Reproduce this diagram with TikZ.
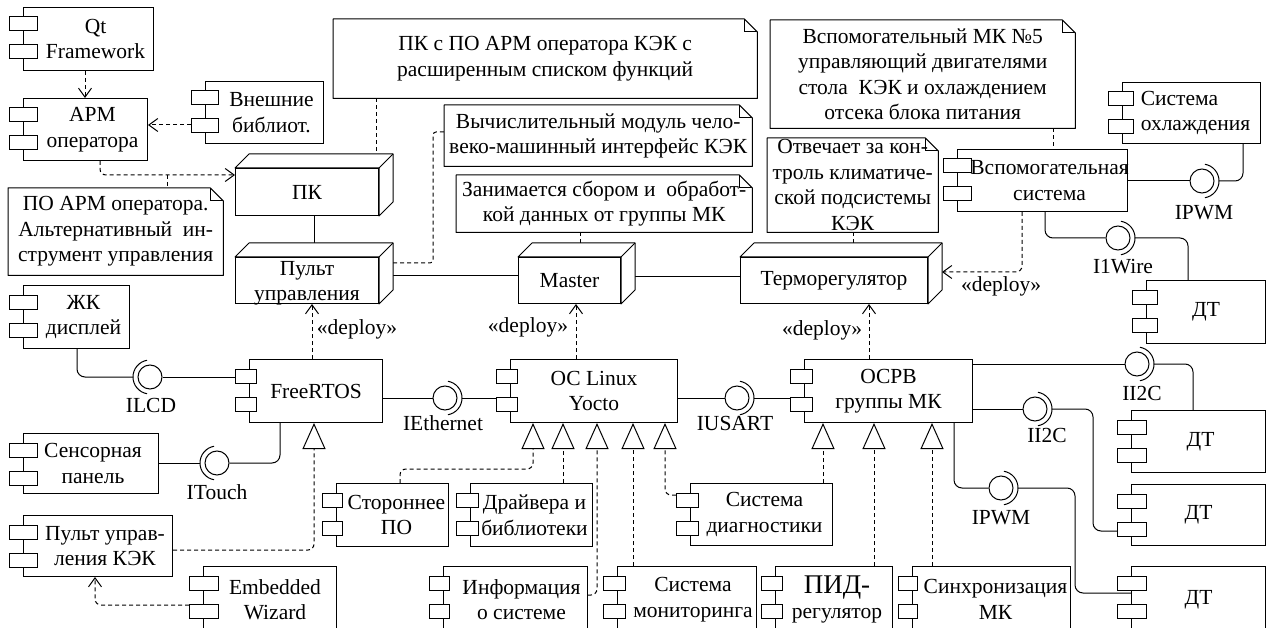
\documentclass[tikz,border=0pt]{standalone}
\usepackage{fontspec}
\setmainfont{Liberation Serif}
\usetikzlibrary{arrows.meta,calc}
\pgfdeclarelayer{bg}
\pgfsetlayers{bg,main}
\tikzset{
  base/.style={line width=1pt},
  box/.style={draw, fill=white, line width=1pt, inner sep=0pt, anchor=north west},
  tabbox/.style={draw, fill=white, line width=1pt},
  txt/.style={font=\fontsize{21.5}{25.5}\selectfont, align=center, inner sep=0pt},
  dsh/.style={line width=1pt, dash pattern=on 4pt off 3pt},
  dep/.style={dsh, -{Straight Barb[length=9pt,width=13pt]}},
  real/.style={dsh, -{Triangle[open,length=26pt,width=23pt]}},
  wire/.style={line width=1pt, rounded corners=8pt},
  ball/.style={circle, draw, fill=white, line width=1pt, minimum size=24pt, inner sep=0pt},
}
% component: name x1 y1 x2 y2 tabR textshift textopts text
\newcommand\Comp[9]{%
  \pgfmathsetmacro\cmpw{#4-#2}\pgfmathsetmacro\cmph{#5-#3}%
  \node[box, minimum width=\cmpw pt, minimum height=\cmph pt] (#1) at (#2,#3) {};
  \draw[tabbox] ([shift={(-14,10)}]#1.north west) rectangle ([shift={(#6,24)}]#1.north west);
  \draw[tabbox] ([shift={(-14,38)}]#1.north west) rectangle ([shift={(#6,52)}]#1.north west);
  \node[txt,#8] (#1-t) at ([xshift=#7pt]#1.center) {#9};
}
% device node: name x1 y1 x2 y2 textopts text
\newcommand\Dev[7]{%
  \pgfmathsetmacro\cmpw{#4-#2}\pgfmathsetmacro\cmph{#5-#3}%
  \node[box, minimum width=\cmpw pt, minimum height=\cmph pt] (#1) at (#2,#3) {};
  \draw[base, fill=white, line join=round] (#1.north west) -- ++(14,-14) -- ([shift={(14,-14)}]#1.north east) -- ([shift={(14,-14)}]#1.south east) -- (#1.south east) -- (#1.north east) -- cycle;
  \draw[base] (#1.north east) -- ++(14,-14);
  \coordinate (#1-tp) at ([yshift=14pt]#1.north);
  \coordinate (#1-rt) at ([xshift=14pt]#1.east);
  \node[txt,#6] (#1-t) at (#1.center) {#7};
}
% note: name x1 y1 x2 y2 text
\newcommand\Note[6]{%
  \pgfmathsetmacro\cmpw{#4-#2}\pgfmathsetmacro\cmph{#5-#3}%
  \node[inner sep=0pt, anchor=north west, minimum width=\cmpw pt, minimum height=\cmph pt] (#1) at (#2,#3) {};
  \draw[base, fill=white, line join=round] (#1.north west) -- ([xshift=-13pt]#1.north east) -- ([yshift=-13pt]#1.north east) -- (#1.south east) -- (#1.south west) -- cycle;
  \draw[base] ([xshift=-13pt]#1.north east) |- ([yshift=-13pt]#1.north east);
  \node[txt] (#1-t) at (#1.center) {#6};
}
% interface: name x y side label lx ly
\newcommand\Iface[7]{%
  \node[ball] (#1) at (#2,#3) {};
  \ifnum#4>0
    \draw[base] ([xshift=17pt]#1.center) arc[start angle=0,end angle=80,radius=17pt]
                ([xshift=17pt]#1.center) arc[start angle=0,end angle=-80,radius=17pt];
    \coordinate (#1-s) at ([xshift=17pt]#1.center);
  \else
    \draw[base] ([xshift=-17pt]#1.center) arc[start angle=180,end angle=100,radius=17pt]
                ([xshift=-17pt]#1.center) arc[start angle=180,end angle=260,radius=17pt];
    \coordinate (#1-s) at ([xshift=-17pt]#1.center);
  \fi
  \node[txt] (#1-l) at (#6,#7) {#5};
}
\begin{document}
\begin{tikzpicture}[x=1pt,y=-1pt]
\useasboundingbox (0,0) rectangle (1271,628);
\begin{pgfonlayer}{bg}
\fill[white] (0,0) rectangle (1271,628);
\end{pgfonlayer}
\clip (0,0) rectangle (1271,628);

% ---------- components ----------
\Comp{qt}{23}{7}{153}{70}{14}{7}{}{Qt\\Framework}
\Comp{arm}{23}{98}{147}{160}{14}{7}{}{АРМ\\оператора}
\Comp{ext}{205}{81}{323}{143}{13}{7}{}{Внешние\\библиот.}
\Comp{cool}{1122}{82}{1260}{143}{11}{4}{align=left}{Система\\охлаждения}
\Comp{aux}{957}{149}{1127}{211}{14}{7}{}{Вспомогательная\\система}
\Comp{lcd}{23}{285}{129}{348}{14}{7}{}{ЖК\\дисплей}
\Comp{touch}{23}{433}{158}{493}{14}{2}{}{Сенсорная\\панель}
\Comp{pultkek}{23}{515}{172}{576}{14}{7}{}{Пульт управ-\\ления КЭК}
\Comp{ew}{203}{566}{336}{632}{15}{5}{}{Embedded\\Wizard}
\Comp{freertos}{249}{359}{382}{422}{7}{0}{}{FreeRTOS}
\Comp{linux}{510}{359}{677}{422}{7}{0}{}{ОС Linux\\Yocto}
\Comp{osrv}{804}{359}{972}{422}{8}{0}{}{ОСРВ\\группы МК}
\Comp{third}{336}{483}{448}{546}{6}{4}{}{Стороннее\\ПО}
\Comp{drv}{470}{483}{592}{546}{8}{3}{}{Драйвера и\\библиотеки}
\Comp{diag}{690}{483}{832}{545}{8}{3}{}{Система\\диагностики}
\Comp{info}{443}{566}{587}{632}{6}{6}{}{Информация\\о системе}
\Comp{mon}{617}{566}{756}{632}{8}{6}{}{Система\\мониторинга}
\Comp{pid}{775}{566}{892}{632}{7}{3}{}{{\fontsize{27}{27}\selectfont ПИД-}\\регулятор}
\Comp{sync}{912}{566}{1070}{632}{5}{4}{}{Синхронизация\\МК}
\Comp{dt1}{1146}{280}{1265}{343}{11}{0}{}{ДТ}
\Comp{dt2}{1131}{410}{1265}{472}{15}{2}{}{ДТ}
\Comp{dt3}{1131}{484}{1265}{545}{15}{0}{}{ДТ}
\Comp{dt4}{1131}{566}{1265}{632}{15}{0}{}{ДТ}

% ---------- devices ----------
\Dev{pk}{235}{168}{378}{215}{}{ПК}
\Dev{pult}{235}{257}{378}{303}{yshift=-3pt}{Пульт\\управления}
\Dev{master}{518}{257}{620}{303}{}{Master}
\Dev{thermo}{740}{257}{927}{303}{}{Терморегулятор}

% ---------- notes ----------
\Note{n1}{8}{188}{223}{275}{ПО АРМ оператора.\\Альтернативный\ \ ин-\\струмент управления}
\Note{n2}{333}{19}{757}{98}{ПК с ПО АРМ оператора КЭК с\\расширенным списком функций}
\Note{n3}{444}{105}{752}{166}{Вычислительный модуль чело-\\веко-машинный интерфейс КЭК}
\Note{n4}{456}{175}{752}{232}{Занимается сбором и\ \ обработ-\\кой данных от группы МК}
\Note{n5}{767}{138}{938}{232}{Отвечает за кон-\\троль климатиче-\\ской подсистемы\\КЭК}
\Note{n6}{770}{20}{1075}{128}{Вспомогательный МК №5\\управляющий двигателями\\стола\ \ КЭК и охлаждением\\отсека блока питания}

% ---------- interfaces ----------
\Iface{ilcd}{150}{377}{-1}{ILCD}{151}{405}
\Iface{itouch}{217}{463}{-1}{ITouch}{217}{492}
\Iface{ieth}{445}{398}{1}{IEthernet}{443}{423}
\Iface{iusart}{737}{398}{1}{IUSART}{735}{423}
\Iface{ipwma}{1202}{181}{1}{IPWM}{1204}{213}
\Iface{iwire}{1118}{238}{1}{I1Wire}{1123}{267}
\Iface{iica}{1137}{364}{1}{II2C}{1142}{393}
\Iface{iicb}{1035}{409}{1}{II2C}{1047}{435}
\Iface{ipwmb}{1001}{488}{1}{IPWM}{1001}{518}

% ---------- deploy labels ----------
\node[txt] (dl1) at (357,329) {«deploy»};
\node[txt] (dl2) at (528,327) {«deploy»};
\node[txt] (dl3) at (822,330) {«deploy»};
\node[txt] (dl4) at (1001,286) {«deploy»};

% ---------- connectors ----------
\begin{pgfonlayer}{bg}
\draw[dep] (qt.south -| 85,0) -- (arm.north -| 85,0);
\draw[dep] (ext.west |- 0,125) -- (arm.east |- 0,125);
\draw[dep, rounded corners=6pt] (arm.south -| 100,0) |- (pk.west |- 0,175);
\coordinate (j1) at (167,175);
\draw[dsh] (j1) -- (n1.north -| j1);
\draw[dsh] (n2.south -| 376,0) -- (pk-tp -| 376,0);
\draw[base] (pk.south -| 314,0) -- (pult-tp -| 314,0);
\draw[dsh, rounded corners=3pt] (pult-rt |- 0,263) -| (433,132) -- (n3.west |- 0,132);
\draw[base] (pult-rt |- 0,276) -- (master.west |- 0,276);
\draw[base] (master-rt |- 0,277) -- (thermo.west |- 0,277);
\draw[dsh] (n4.south -| 580,0) -- (master-tp -| 580,0);
\draw[dsh] (n5.south -| 853,0) -- (thermo-tp -| 853,0);
\draw[dsh] (n6.south -| 1053,0) -- (aux.north -| 1053,0);
\draw[dep, rounded corners=6pt] (aux.south -| 1022,0) |- (thermo-rt |- 0,272);
\draw[base] (aux.east |- ipwma) -- (ipwma.west);
\draw[wire] (ipwma-s) -| (cool.south -| 1243,0);
\draw[wire] (aux.south -| 1045,0) |- (iwire.west);
\draw[wire] (iwire-s) -| (dt1.north -| 1188,0);

\draw[dep] (freertos.north -| 312,0) -- (pult.south -| 312,0);
\draw[wire] (lcd.south -| 77,0) |- (ilcd-s);
\draw[base] (ilcd.east) -- (freertos.west |- ilcd);
\draw[base] (touch.east |- itouch) -- (itouch-s);
\draw[wire] (itouch.east) -| (freertos.south -| 280,0);
\draw[real, rounded corners=6pt] (pultkek.east |- 0,550) -| (freertos.south -| 314,0);
\draw[dep, rounded corners=6pt] (ew.west |- 0,605) -| (pultkek.south -| 95,0);

\draw[base] (freertos.east |- ieth) -- (ieth.west);
\draw[base] (ieth-s) -- (linux.west |- ieth);
\draw[dep] (linux.north -| 576,0) -- (master.south -| 576,0);
\draw[base] (linux.east |- iusart) -- (iusart.west);
\draw[base] (iusart-s) -- (osrv.west |- iusart);
\draw[dep] (osrv.north -| 869,0) -- (thermo.south -| 869,0);

\draw[real, rounded corners=6pt] (third.north -| 400,0) |- (533,469) -- (linux.south -| 533,0);
\draw[real] (drv.north -| 563,0) -- (linux.south -| 563,0);
\draw[real, rounded corners=6pt] (info.east |- 0,595) -| (linux.south -| 597,0);
\draw[real] (mon.north -| 633,0) -- (linux.south -| 633,0);
\draw[real, rounded corners=6pt] (diag.west |- 0,495) -| (linux.south -| 665,0);

\draw[real] (diag.north -| 823,0) -- (osrv.south -| 823,0);
\draw[real] (pid.north -| 874,0) -- (osrv.south -| 874,0);
\draw[real] (sync.north -| 932,0) -- (osrv.south -| 932,0);

\draw[base] (osrv.east |- iica) -- (iica.west);
\draw[wire] (iica-s) -| (dt2.north -| 1193,0);
\draw[base] (osrv.east |- iicb) -- (iicb.west);
\draw[wire] (iicb-s) -| (1093,531) -- (dt3.west |- 0,531);
\draw[wire] (osrv.south -| 954,0) |- (ipwmb.west);
\draw[wire] (ipwmb-s) -| (1075,593) -- (dt4.west |- 0,593);
\end{pgfonlayer}
\end{tikzpicture}
\end{document}
